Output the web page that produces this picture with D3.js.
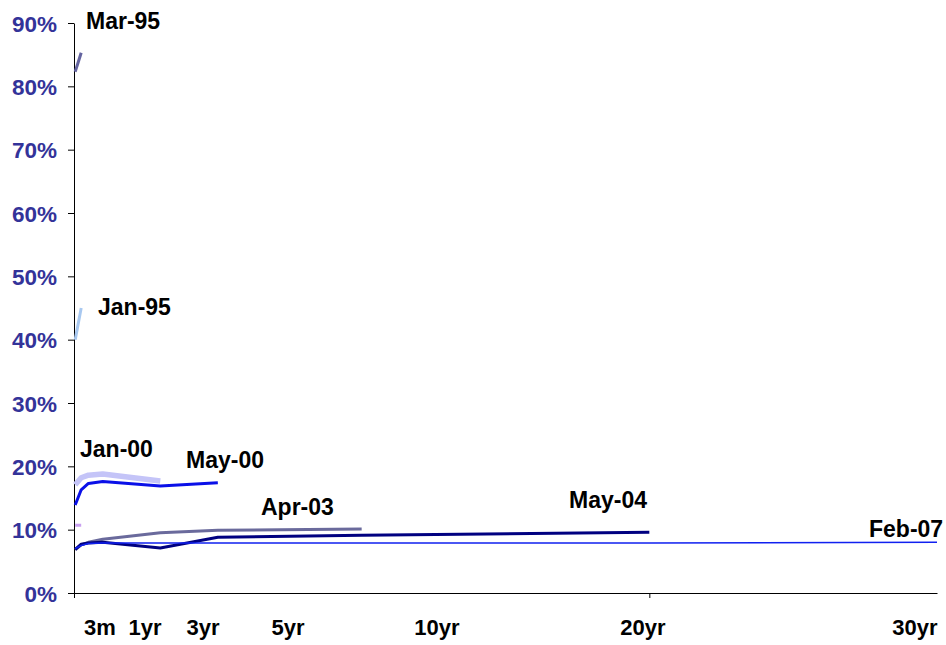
<!DOCTYPE html>
<html>
<head>
<meta charset="utf-8">
<script src="https://cdnjs.cloudflare.com/ajax/libs/d3/7.8.5/d3.min.js"></script>
<style>
  body { margin: 0; background: #fff; }
  svg { display: block; font-family: "Liberation Sans", Arial, sans-serif; font-weight: bold; }
</style>
</head>
<body>
<svg width="946" height="645"></svg>
<script>
// maturities in months
const maturities = [0.5, 3, 6, 12, 36, 60, 120, 240, 360];

// yields in %, one value per maturity (curve stops where the data stops)
const mar95 = [82.3, 85.3];
const jan95 = [40.0, 45.0];
const unlabeled = [10.7, 10.7];
const jan00 = [17.1, 18.2, 18.6, 18.8, 17.7];
const may00 = [13.9, 16.3, 17.3, 17.6, 16.9, 17.4];
const apr03 = [6.8, 7.6, 8.0, 8.5, 9.5, 9.9, 10.1];
const may04 = [6.9, 7.7, 7.9, 8.0, 7.1, 8.8, 9.1, 9.6];
const feb07 = [7.0, 7.5, 7.8, 7.9, 7.9, 7.9, 7.9, 7.9, 8.0];

const seriesNames = ["Mar-95", "Jan-95", "", "Jan-00", "May-00", "Apr-03", "May-04", "Feb-07"];
const seriesValues = [mar95, jan95, unlabeled, jan00, may00, apr03, may04, feb07];

const yTicks = [0, 10, 20, 30, 40, 50, 60, 70, 80, 90];
const xLabels = ["3m", "1yr", "3yr", "5yr", "10yr", "20yr", "30yr"];

// styling / layout
const seriesStyle = [
  { color: "#6464a0", width: 3 },
  { color: "#a8c8f0", width: 3 },
  { color: "#c8a0f0", width: 3 },
  { color: "#c4c4f8", width: 5.5 },
  { color: "#0a10e8", width: 3 },
  { color: "#6a6a9c", width: 3 },
  { color: "#000080", width: 3 },
  { color: "#1020f0", width: 1.5 }
];
const seriesLabelPos = [
  [86, 29], [98, 315], null, [80, 457], [186, 468], [261, 515], [569, 508], [869, 537]
];
const xLabelPos = [100, 145, 203, 288, 437, 643, 915];

const svg = d3.select("svg");
const plot = { left: 74, right: 937, top: 23, bottom: 593 };

const x = d3.scaleLinear().domain([0, 360]).range([plot.left, plot.right]);
const y = d3.scaleLinear().domain([0, 90]).range([plot.bottom, plot.top]);

// Y axis
const yAxis = svg.append("g")
  .attr("transform", `translate(${plot.left},0)`)
  .call(d3.axisLeft(y).tickValues(yTicks).tickSize(6).tickSizeOuter(0).tickFormat(d => d + "%"));
yAxis.select(".domain").attr("stroke", "#000");
yAxis.selectAll(".tick line").attr("stroke", "#000");
yAxis.selectAll(".tick text")
  .attr("x", -17)
  .attr("dy", "0.36em")
  .attr("fill", "#333399")
  .style("font-size", "22.5px")
  .style("font-family", "'Liberation Sans', Arial, sans-serif")
  .style("font-weight", "bold");

// X axis
const xAxis = svg.append("g")
  .attr("transform", `translate(0,${plot.bottom})`)
  .call(d3.axisBottom(x).tickValues([0, 240]).tickSize(5).tickSizeOuter(0).tickFormat(""));
xAxis.select(".domain").attr("stroke", "#000");
xAxis.selectAll(".tick line").attr("stroke", "#000");

svg.append("g")
  .selectAll("text")
  .data(xLabels)
  .enter()
  .append("text")
  .attr("x", (d, i) => xLabelPos[i])
  .attr("y", 635)
  .attr("text-anchor", "middle")
  .style("font-size", "22px")
  .text(d => d);

// Curves
const line = d3.line()
  .x((d, i) => x(maturities[i]))
  .y(d => y(d));

svg.append("g")
  .selectAll("path")
  .data(seriesValues)
  .enter()
  .append("path")
  .attr("d", d => line(d))
  .attr("fill", "none")
  .attr("stroke", (d, i) => seriesStyle[i].color)
  .attr("stroke-width", (d, i) => seriesStyle[i].width)
  .attr("stroke-linejoin", "round");

// Series labels
svg.append("g")
  .selectAll("text")
  .data(seriesNames.map((n, i) => ({ n, p: seriesLabelPos[i] })).filter(d => d.p))
  .enter()
  .append("text")
  .attr("x", d => d.p[0])
  .attr("y", d => d.p[1])
  .style("font-size", "23px")
  .attr("fill", "#000")
  .text(d => d.n);
</script>
</body>
</html>
